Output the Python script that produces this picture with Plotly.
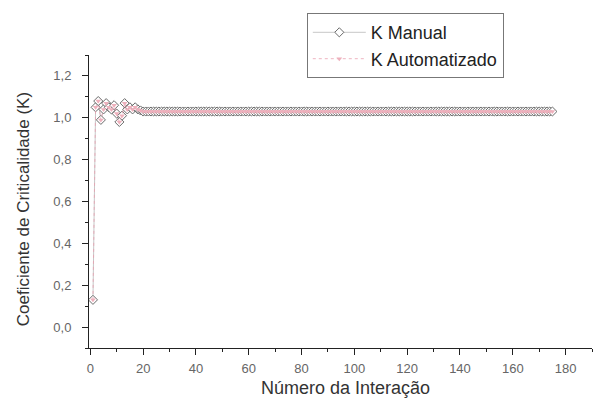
import plotly.graph_objects as go

iteracao = list(range(1, 176))
k_inicio = [0.13, 1.05, 1.08, 0.99, 1.04, 1.07, 1.05, 1.04, 1.06, 1.02,
            0.98, 1.01, 1.07, 1.04, 1.05, 1.04, 1.05, 1.04, 1.035, 1.03]
k_plato = [1.03] * (175 - len(k_inicio))
k_manual = k_inicio + k_plato
k_auto = k_inicio + k_plato

x_ticks = [0, 20, 40, 60, 80, 100, 120, 140, 160, 180]
y_ticks = [0.0, 0.2, 0.4, 0.6, 0.8, 1.0, 1.2]
titulo_x = "Número da Interação"
titulo_y = "Coeficiente de Criticalidade (K)"

fig = go.Figure()
fig.add_trace(go.Scatter(
    x=iteracao, y=k_manual, name="K Manual", mode="lines+markers",
    line=dict(color="#a0a0a0", width=0.6),
    marker=dict(symbol="diamond", size=7, color="white",
                line=dict(color="#6a6a6a", width=1)),
))
fig.add_trace(go.Scatter(
    x=iteracao, y=k_auto, name="K Automatizado", mode="lines+markers",
    line=dict(color="#e8a0b0", width=0.8, dash="dot"),
    marker=dict(symbol="triangle-down", size=5, color="#eeb0bc",
                line=dict(color="#eeb0bc", width=0)),
))

fig.add_annotation(text=titulo_x, xref="paper", yref="paper", x=0.509, y=-0.137,
                   xanchor="center", yanchor="middle", showarrow=False,
                   font=dict(size=18, color="#333"))
fig.add_annotation(text=titulo_y, xref="paper", yref="paper", x=-0.131, y=0.474,
                   xanchor="center", yanchor="middle", showarrow=False, textangle=-90,
                   font=dict(size=17, color="#333"))

fig.update_layout(
    width=609, height=399,
    margin=dict(l=81, r=25, t=47, b=59, autoexpand=False),
    paper_bgcolor="white", plot_bgcolor="white",
    separators=",.",
    font=dict(family="Liberation Sans, Arial, sans-serif", color="#333"),
    showlegend=True,
    legend=dict(x=0.433, y=1.143, xanchor="left", yanchor="top",
                bordercolor="#777", borderwidth=1, bgcolor="white",
                font=dict(size=18, color="#222"),
                tracegroupgap=0, itemwidth=53),
    xaxis=dict(
        range=[-0.5, 190], tickvals=x_ticks, showgrid=False, zeroline=False,
        showline=True, linecolor="#222", linewidth=1,
        ticks="outside", ticklen=6, tickcolor="#222", ticklabelstandoff=2,
        tickfont=dict(size=13, color="#666"),
        minor=dict(dtick=10, tick0=0, ticks="outside", ticklen=3, tickcolor="#222"),
    ),
    yaxis=dict(
        range=[-0.1, 1.3], tickvals=y_ticks, tickformat=".1f", showgrid=False,
        zeroline=False, showline=True, linecolor="#222", linewidth=1,
        ticks="outside", ticklen=6, tickcolor="#222", ticklabelstandoff=8,
        tickfont=dict(size=13, color="#666"),
        minor=dict(dtick=0.1, tick0=0, ticks="outside", ticklen=3, tickcolor="#222"),
    ),
)

fig.write_html("out.html")
